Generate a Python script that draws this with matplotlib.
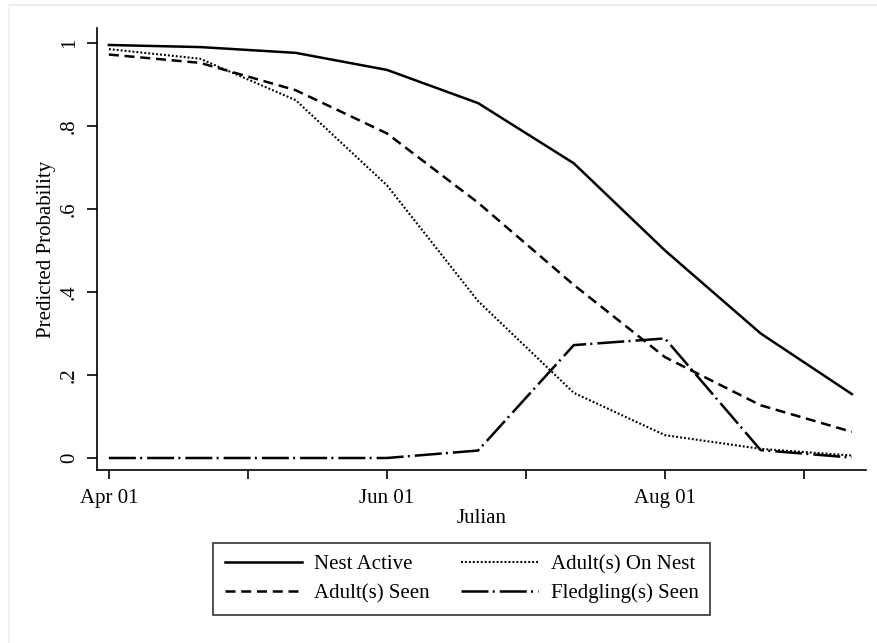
import numpy as np
import matplotlib.pyplot as plt
from matplotlib.lines import Line2D

plt.rcParams['font.family'] = ['Liberation Serif', 'DejaVu Serif']

# julian day of each prediction
julian = [91, 111, 132, 152, 172, 193, 213, 234, 254]

nest_active = [0.995, 0.99, 0.976, 0.935, 0.855, 0.71, 0.50, 0.30, 0.154]
adult_on_nest = [0.985, 0.962, 0.862, 0.657, 0.378, 0.157, 0.055, 0.022, 0.006]
adult_seen = [0.972, 0.952, 0.886, 0.782, 0.615, 0.417, 0.243, 0.127, 0.063]
fledgling_seen = [0.0, 0.0, 0.0, 0.0, 0.018, 0.272, 0.288, 0.019, 0.001]

tick_days = [91, 121.5, 152, 182.5, 213, 243.5]
tick_labels = ['Apr 01', '', 'Jun 01', '', 'Aug 01', '']
ytick_vals = [0, 0.2, 0.4, 0.6, 0.8, 1.0]
ytick_labels = ['0', '.2', '.4', '.6', '.8', '1']

fig = plt.figure(figsize=(8.78, 6.43), dpi=100)
ax = fig.add_axes([0.1105, 0.269, 0.8758, 0.6875])

lw = 1.8
h_na, = ax.plot(julian, nest_active, color='black', lw=lw, label='Nest Active')
h_on, = ax.plot(julian, adult_on_nest, color='black', lw=1.5, dashes=(0.9, 1.0),
                label='Adult(s) On Nest')
h_as, = ax.plot(julian, adult_seen, color='black', lw=lw, dashes=(4, 2.3),
                label='Adult(s) Seen')
h_fs, = ax.plot(julian, fledgling_seen, color='black', lw=lw,
                dashes=(10.8, 1.7, 0.8, 2), label='Fledgling(s) Seen')

ax.set_xlim(88.4, 257.1)
ax.set_ylim(-0.029, 1.036)
ax.spines['top'].set_visible(False)
ax.spines['right'].set_visible(False)
ax.spines['left'].set_linewidth(1.2)
ax.spines['bottom'].set_linewidth(1.2)

ax.set_xticks(tick_days)
ax.set_xticklabels(tick_labels, fontsize=15)
ax.set_yticks(ytick_vals)
ax.set_yticklabels(ytick_labels, fontsize=15, rotation=90, va='center')
ax.tick_params(axis='x', length=6.5, width=1.2, pad=7)
ax.tick_params(axis='y', length=7, width=1.2, pad=6)

ax.set_xlabel('Julian', fontsize=15, labelpad=1)
ax.set_ylabel('Predicted Probability', fontsize=15, labelpad=3)

# column-wise fill: row 1 = Nest Active / On Nest, row 2 = Seen / Fledgling
leg = fig.legend([h_na, h_as, h_on, h_fs],
                 ['Nest Active', 'Adult(s) Seen', 'Adult(s) On Nest', 'Fledgling(s) Seen'],
                 loc='center', bbox_to_anchor=(0.5256, 0.0995), ncol=2,
                 fontsize=15, frameon=True, fancybox=False, handlelength=3.7,
                 handletextpad=0.6, columnspacing=1.5, labelspacing=0.45,
                 borderpad=0.55)
leg.get_frame().set_edgecolor('black')
leg.get_frame().set_linewidth(1.2)

# faint outer frame from the source image
fig.add_artist(Line2D([9/878, 1], [1-5/643, 1-5/643], color='#e6eef2', lw=1.5))
fig.add_artist(Line2D([9/878, 9/878], [0, 1-5/643], color='#eef3f5', lw=1.5))

fig.savefig('out.png', dpi=100, facecolor='white')
